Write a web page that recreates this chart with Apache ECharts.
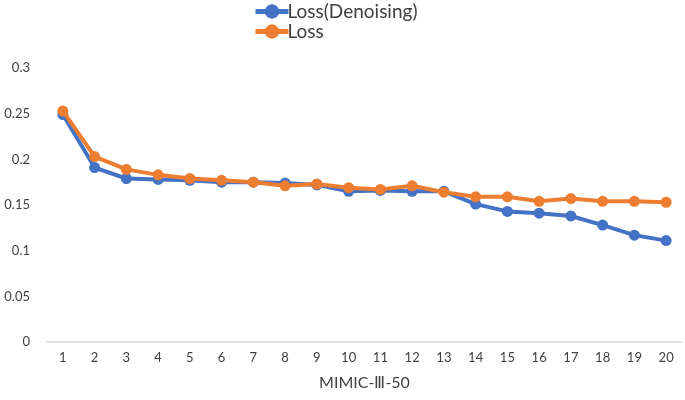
<!DOCTYPE html>
<html><head><meta charset="utf-8">
<script src="https://cdn.jsdelivr.net/npm/echarts@6/dist/echarts.min.js"></script>
<style>html,body{margin:0;padding:0;background:#fff}#c{width:685px;height:400px}</style>
</head><body><div id="c"></div>
<script>
const categories = ['1','2','3','4','5','6','7','8','9','10','11','12','13','14','15','16','17','18','19','20'];
const lossDenoising = [0.249,0.191,0.179,0.178,0.177,0.175,0.175,0.174,0.172,0.165,0.166,0.165,0.165,0.151,0.143,0.141,0.138,0.128,0.117,0.111];
const loss = [0.253,0.203,0.189,0.183,0.179,0.177,0.175,0.171,0.173,0.169,0.167,0.171,0.164,0.159,0.159,0.154,0.157,0.154,0.154,0.153];
const yTicks = [0,0.05,0.1,0.15,0.2,0.25,0.3];
const seriesNames = ['Loss(Denoising)','Loss'];
const colors = ['#4472C4','#ED7D31'];
const FONT = 'Lato';
const chart = echarts.init(document.getElementById('c'));
chart.setOption({
  animation:false,
  color: colors,
  textStyle:{fontFamily:FONT},
  legend:{
    data: seriesNames, orient:'vertical', left:248, top:-3, itemGap:1,
    itemWidth:33, itemHeight:18,
    lineStyle:{width:5},
    textStyle:{fontSize:19, lineHeight:18, color:'#404040', fontFamily:FONT, padding:[0,0,0,-6]}
  },
  grid:{left:47, right:3, top:68, bottom:58},
  xAxis:{
    type:'category', data:categories, boundaryGap:true,
    name:'MIMIC-Ⅲ-50', nameLocation:'middle', nameGap:33,
    nameTextStyle:{fontSize:16, color:'#404040', fontFamily:FONT},
    axisLine:{lineStyle:{color:'#D9D9D9', width:1.5}},
    axisTick:{show:false},
    axisLabel:{fontSize:13, color:'#404040', margin:9}
  },
  yAxis:{
    type:'value', min:yTicks[0], max:yTicks[yTicks.length-1], interval:0.05,
    axisLine:{show:false}, axisTick:{show:false}, splitLine:{show:false},
    axisLabel:{fontSize:13, color:'#404040', margin:17, formatter:v=>String(+v.toFixed(2))}
  },
  series:[
    {name:seriesNames[0], type:'line', data:lossDenoising, symbol:'circle', symbolSize:11,
     lineStyle:{width:4}, itemStyle:{color:colors[0]}, z:2},
    {name:seriesNames[1], type:'line', data:loss, symbol:'circle', symbolSize:11,
     lineStyle:{width:4}, itemStyle:{color:colors[1]}, z:3}
  ]
});
</script></body></html>
